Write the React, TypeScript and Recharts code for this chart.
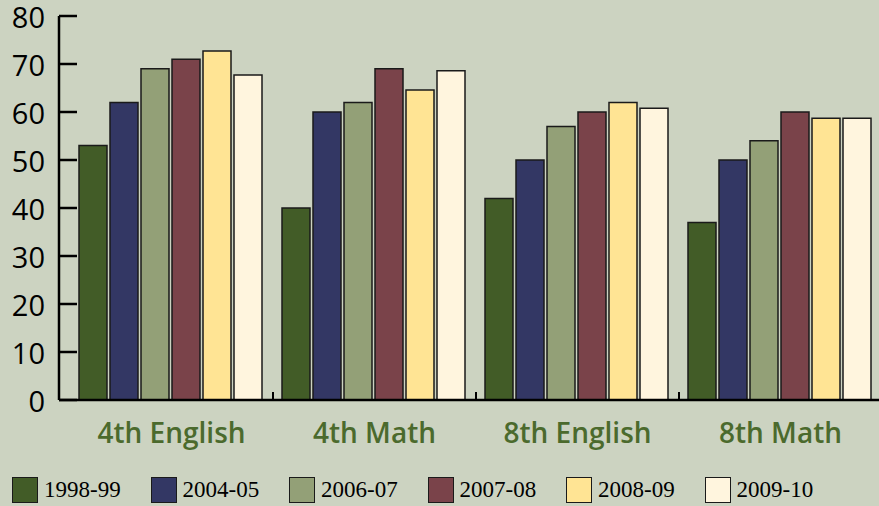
import React from 'react';
import { BarChart, Bar, XAxis, YAxis } from 'recharts';

const categories = ['4th English', '4th Math', '8th English', '8th Math'];
const years = ['1998-99', '2004-05', '2006-07', '2007-08', '2008-09', '2009-10'];
const colors = ['#425C27', '#333764', '#93A077', '#7A434A', '#FFE494', '#FFF5DE'];

const s1998 = [53, 40, 42, 37];
const s2004 = [62, 60, 50, 50];
const s2006 = [69, 62, 57, 54];
const s2007 = [71, 69, 60, 60];
const s2008 = [72.7, 64.6, 62, 58.7];
const s2009 = [67.7, 68.6, 60.8, 58.7];
const yTicks = [0, 10, 20, 30, 40, 50, 60, 70, 80];

const seriesValues = [s1998, s2004, s2006, s2007, s2008, s2009];

const data = categories.map((name, i) => {
  const row: Record<string, string | number> = { name };
  years.forEach((y, k) => {
    row[y] = seriesValues[k][i];
  });
  return row;
});

const BG = '#CCD3C1';
const BAND = 203;
const SERIF = '"Liberation Serif", "Times New Roman", serif';

const YTick = (props: any) => {
  const { x, y, payload } = props;
  return (
    <g>
      <line x1={x + 14} x2={x + 32} y1={y} y2={y} stroke="#000" strokeWidth={2.5} />
      <text
        x={x}
        y={y}
        dy={12}
        textAnchor="end"
        fontFamily="'Open Sans', sans-serif"
        fontSize={29}
        fill="#000"
      >
        {payload.value}
      </text>
    </g>
  );
};

const XTick = (props: any) => {
  const { x, y, payload, index } = props;
  return (
    <g>
      {index < categories.length - 1 && (
        <line x1={x + BAND / 2} x2={x + BAND / 2} y1={y - 8} y2={y} stroke="#000" strokeWidth={2} />
      )}
      <text
        x={x}
        y={y + 43}
        textAnchor="middle"
        fontFamily="'Open Sans', sans-serif"
        fontWeight={600}
        fontSize={28}
        fill="#4B6A2D"
      >
        {payload.value}
      </text>
    </g>
  );
};

export default function App() {
  return (
    <div
      style={{
        position: 'fixed',
        left: 0,
        top: 0,
        width: 879,
        height: 506,
        background: BG,
        overflow: 'hidden',
      }}
    >
      <BarChart
        width={882}
        height={460}
        data={data}
        margin={{ top: 16, right: 0, left: 0, bottom: 0 }}
        barCategoryGap={9}
        barGap={3}
      >
        <XAxis
          dataKey="name"
          height={60}
          padding={{ left: 11, right: 0 }}
          axisLine={{ stroke: '#000', strokeWidth: 2.5 }}
          tickLine={false}
          tickSize={0}
          tickMargin={0}
          tick={<XTick />}
          interval={0}
        />
        <YAxis
          width={59}
          domain={[0, 80]}
          ticks={yTicks}
          interval={0}
          axisLine={{ stroke: '#000', strokeWidth: 2.5 }}
          tickLine={false}
          tickSize={0}
          tickMargin={14}
          tick={<YTick />}
        />
        {years.map((y, k) => (
          <Bar
            key={y}
            dataKey={y}
            fill={colors[k]}
            stroke="#1a1a1a"
            strokeWidth={1.5}
            isAnimationActive={false}
          />
        ))}
      </BarChart>
      <div
        style={{
          position: 'absolute',
          left: 12,
          top: 477,
          display: 'flex',
          alignItems: 'center',
          color: '#000',
        }}
      >
        {years.map((y, k) => (
          <div key={y} style={{ display: 'flex', alignItems: 'center', width: 138.5 }}>
            <div
              style={{
                width: 24,
                height: 24,
                background: colors[k],
                border: '1.5px solid #1a1a1a',
                marginRight: 6,
                flex: 'none',
              }}
            />
            <span style={{ fontFamily: SERIF, fontSize: 23, lineHeight: '26px' }}>{y}</span>
          </div>
        ))}
      </div>
    </div>
  );
}
